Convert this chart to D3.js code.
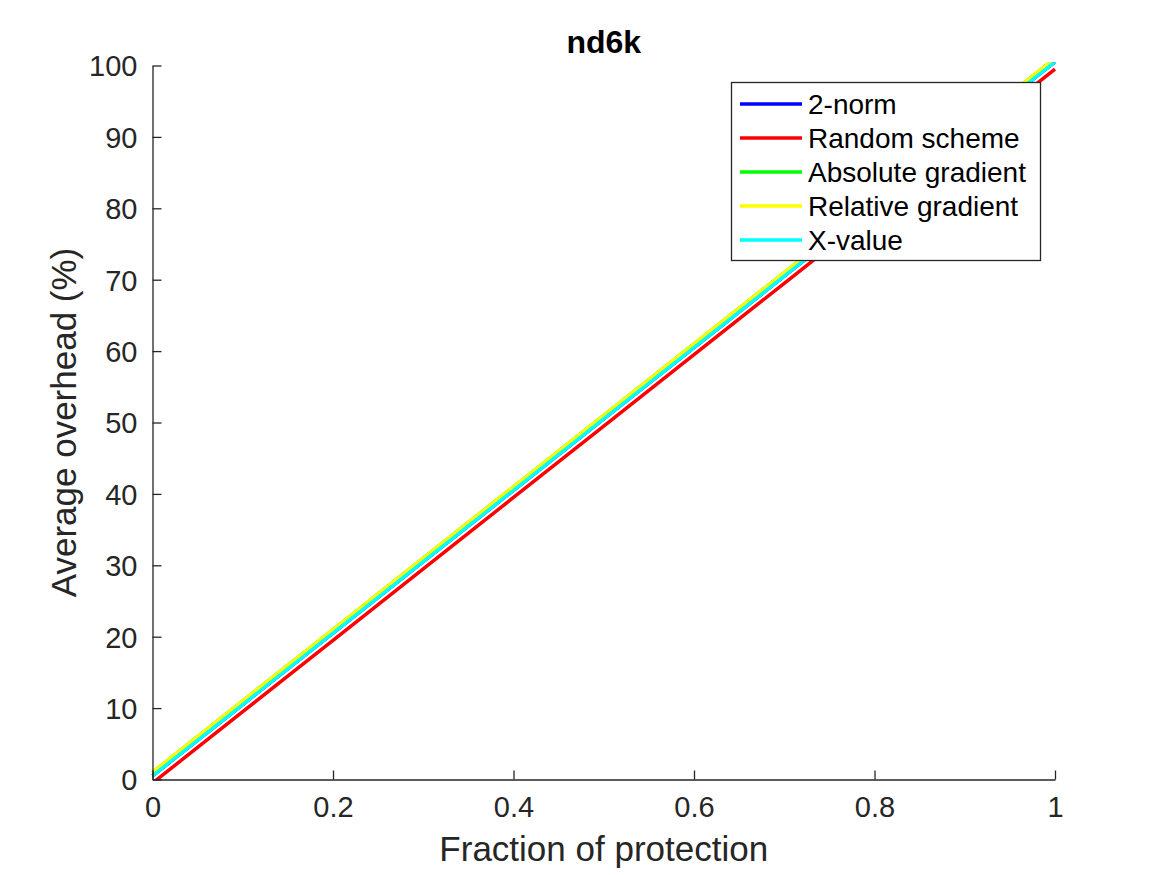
<!DOCTYPE html>
<html>
<head>
<meta charset="utf-8">
<script src="https://cdn.jsdelivr.net/npm/d3@7"></script>
<style>
  body { margin: 0; background: #fff; }
  text { font-family: "Liberation Sans", Arial, Helvetica, sans-serif; }
</style>
</head>
<body>
<div id="chart"></div>
<script>
// data
var fraction = [0, 0.1, 0.2, 0.3, 0.4, 0.5, 0.6, 0.7, 0.8, 0.9, 1];
var norm2    = [0.5, 10.5, 20.5, 30.5, 40.5, 50.5, 60.5, 70.5, 80.5, 90.5, 100.5];
var randomSc = [-0.5, 9.5, 19.5, 29.5, 39.5, 49.5, 59.5, 69.5, 79.5, 89.5, 99.5];
var absGrad  = [1.0, 11.0, 21.0, 31.0, 41.0, 51.0, 61.0, 71.0, 81.0, 91.0, 101.0];
var relGrad  = [1.0, 11.0, 21.0, 31.0, 41.0, 51.0, 61.0, 71.0, 81.0, 91.0, 101.0];
var xValue   = [0.5, 10.5, 20.5, 30.5, 40.5, 50.5, 60.5, 70.5, 80.5, 90.5, 100.5];

var seriesNames = ["2-norm", "Random scheme", "Absolute gradient", "Relative gradient", "X-value"];
var seriesColors = ["#0000ff", "#ff0000", "#00ff00", "#ffff00", "#00ffff"];
var seriesValues = [norm2, randomSc, absGrad, relGrad, xValue];

var xTicks = [0, 0.2, 0.4, 0.6, 0.8, 1];
var yTicks = [0, 10, 20, 30, 40, 50, 60, 70, 80, 90, 100];

var width = 1167, height = 875;
var axLeft = 152.5, axRight = 1055, axTop = 65.5, axBottom = 779.5;
var ink = "#262626";

var svg = d3.select("#chart").append("svg")
    .attr("width", width)
    .attr("height", height);

var x = d3.scaleLinear().domain([0, 1]).range([axLeft, axRight]);
var y = d3.scaleLinear().domain([0, 100]).range([axBottom, axTop]);

// clip like matlab does at the axes limits
svg.append("clipPath").attr("id", "plotclip")
  .append("rect")
    .attr("x", axLeft - 4)
    .attr("y", axTop - 3)
    .attr("width", axRight - axLeft + 8)
    .attr("height", axBottom - axTop + 3);

var line = d3.line()
    .x(function(d){ return x(d[0]); })
    .y(function(d){ return y(d[1]); });

var plot = svg.append("g").attr("clip-path", "url(#plotclip)");
for(var i = 0; i < seriesValues.length; i++){
    var pts = fraction.map(function(f, j){ return [f, seriesValues[i][j]]; });
    plot.append("path")
        .attr("d", line(pts))
        .style("fill", "none")
        .style("stroke", seriesColors[i])
        .style("stroke-width", "3.5px");
}

// axes, ticks pointing inward
var xAxis = d3.axisBottom(x).tickValues(xTicks).tickFormat(d3.format("~g"))
    .tickSizeInner(-9).tickSizeOuter(0).tickPadding(17);
var yAxis = d3.axisLeft(y).tickValues(yTicks).tickFormat(d3.format("~g"))
    .tickSizeInner(-9).tickSizeOuter(0).tickPadding(15);

var gx = svg.append("g").attr("transform", "translate(0," + axBottom + ")").call(xAxis);
var gy = svg.append("g").attr("transform", "translate(" + axLeft + ",0)").call(yAxis);

[gx, gy].forEach(function(g){
    g.select(".domain").attr("stroke", ink).attr("stroke-width", 1.3);
    g.selectAll(".tick line").attr("stroke", ink).attr("stroke-width", 1.3);
    g.selectAll(".tick text")
        .attr("fill", ink)
        .style("font-size", "29px")
        .style("font-family", "'Liberation Sans', Arial, sans-serif");
});
gx.selectAll(".tick text").attr("dy", "0.71em");
gy.selectAll(".tick text").attr("dy", "0.36em");

// title and axis labels
svg.append("text")
    .attr("x", (axLeft + axRight) / 2)
    .attr("y", 53)
    .attr("text-anchor", "middle")
    .style("font-size", "32px")
    .style("font-weight", "bold")
    .attr("fill", "#000")
    .text("nd6k");

svg.append("text")
    .attr("x", (axLeft + axRight) / 2)
    .attr("y", 861)
    .attr("text-anchor", "middle")
    .style("font-size", "35px")
    .attr("fill", ink)
    .text("Fraction of protection");

svg.append("text")
    .attr("transform", "translate(76," + ((axTop + axBottom) / 2) + ") rotate(-90)")
    .attr("text-anchor", "middle")
    .style("font-size", "35px")
    .attr("fill", ink)
    .text("Average overhead (%)");

// legend
var lg = svg.append("g");
lg.append("rect")
    .attr("x", 731.5)
    .attr("y", 82.5)
    .attr("width", 309)
    .attr("height", 178)
    .style("fill", "#fff")
    .style("stroke", ink)
    .style("stroke-width", 1.3);

for(var k = 0; k < seriesNames.length; k++){
    var ly = 104 + k * 34;
    lg.append("line")
        .attr("x1", 740).attr("x2", 802)
        .attr("y1", ly).attr("y2", ly)
        .style("stroke", seriesColors[k])
        .style("stroke-width", "3.5px");
    lg.append("text")
        .attr("x", 808)
        .attr("y", ly)
        .attr("dy", "0.36em")
        .style("font-size", "28px")
        .attr("fill", "#000")
        .text(seriesNames[k]);
}
</script>
</body>
</html>
